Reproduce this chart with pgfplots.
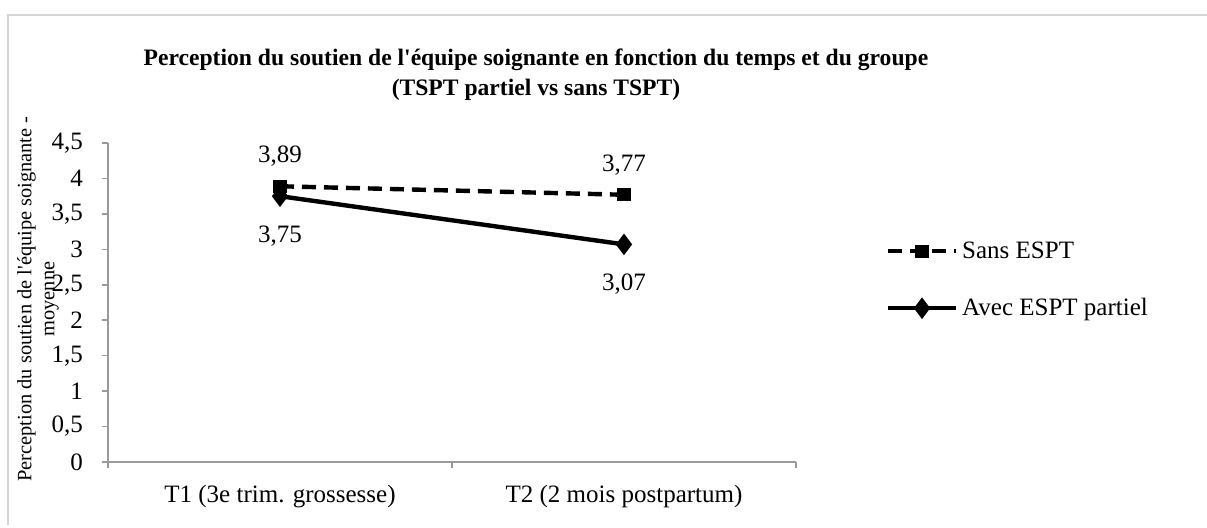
\documentclass[border=0pt]{standalone}
\usepackage{fontspec}
\setmainfont{Liberation Serif}[Ligatures=TeXOff]
\usepackage{pgfplots}
\pgfplotsset{compat=1.18}
\definecolor{axisgray}{HTML}{9A9A9A}
\definecolor{framegray}{HTML}{D4D4D4}
\begin{document}
\begin{tikzpicture}
\useasboundingbox (0,0) rectangle (603.5pt,263.5pt);
\draw[framegray, line width=0.8pt] (4pt,1pt) -- (4pt,256pt) -- (604pt,256pt);
\node[font=\bfseries\fontsize{11.8}{13}\selectfont] at (268pt,233.5pt) {Perception du soutien de l'équipe soignante en fonction du temps et du groupe};
\node[font=\bfseries\fontsize{11.8}{13}\selectfont] at (268pt,218.5pt) {(TSPT partiel vs sans TSPT)};
\node[rotate=90, align=center, font=\fontsize{10.2}{11.5}\selectfont] at (19pt,114pt) {Perception du soutien de l'équipe soignante -\\moyenne};
\begin{axis}[
  at={(54pt,32.5pt)}, anchor=south west,
  scale only axis, width=344pt, height=159.5pt,
  xmin=-0.5, xmax=1.5, ymin=0, ymax=4.5,
  axis lines*=left,
  axis line style={draw=axisgray, line width=0.75pt},
  xtick={0,1},
  xticklabels={T1 (3e trim. grossesse), T2 (2 mois postpartum)},
  minor xtick={-0.5,0.5,1.5},
  major x tick style={draw=none},
  ytick={0,0.5,1,1.5,2,2.5,3,3.5,4,4.5},
  tick align=outside, major tick length=3pt, minor tick length=3pt,
  every tick/.style={draw=axisgray, line width=0.75pt},
  minor tick style={draw=axisgray, line width=0.75pt},
  /pgf/number format/assume math mode=true,
  /pgf/number format/use comma,
  tick label style={font=\fontsize{12.5}{14}\selectfont},
  yticklabel style={xshift=-6pt},
  xticklabel style={yshift=-5pt},
  legend style={at={(1.13,0.705)}, anchor=north west, draw=none, fill=none,
    font=\fontsize{12.5}{14}\selectfont, row sep=14.5pt, inner sep=0pt,
    nodes={inner sep=2pt}},
  legend cell align=left,
  legend image code/.code={\draw[mark repeat=2,mark phase=2,#1] plot coordinates {(0pt,0pt) (17pt,0pt) (34pt,0pt)};},
  nodes near coords={\pgfmathprintnumber[fixed,precision=2,fixed zerofill,use comma,assume math mode=true]{\pgfplotspointmeta}},
  every node near coord/.append style={font=\fontsize{12.5}{14}\selectfont, black},
  clip=false,
]
\addplot[black, line width=2.2pt, dash pattern=on 7pt off 4pt, mark=square*, mark size=2.2pt, mark options={solid},
  every node near coord/.append style={anchor=center, yshift=15pt}]
  coordinates {(0,3.89) (1,3.77)};
\addlegendentry{Sans ESPT}
\addplot[black, line width=2.2pt, mark=diamond*, mark size=3.6pt, mark options={solid},
  every node near coord/.append style={anchor=center, yshift=-20pt}]
  coordinates {(0,3.75) (1,3.07)};
\addlegendentry{Avec ESPT partiel}
\end{axis}
\end{tikzpicture}
\end{document}
